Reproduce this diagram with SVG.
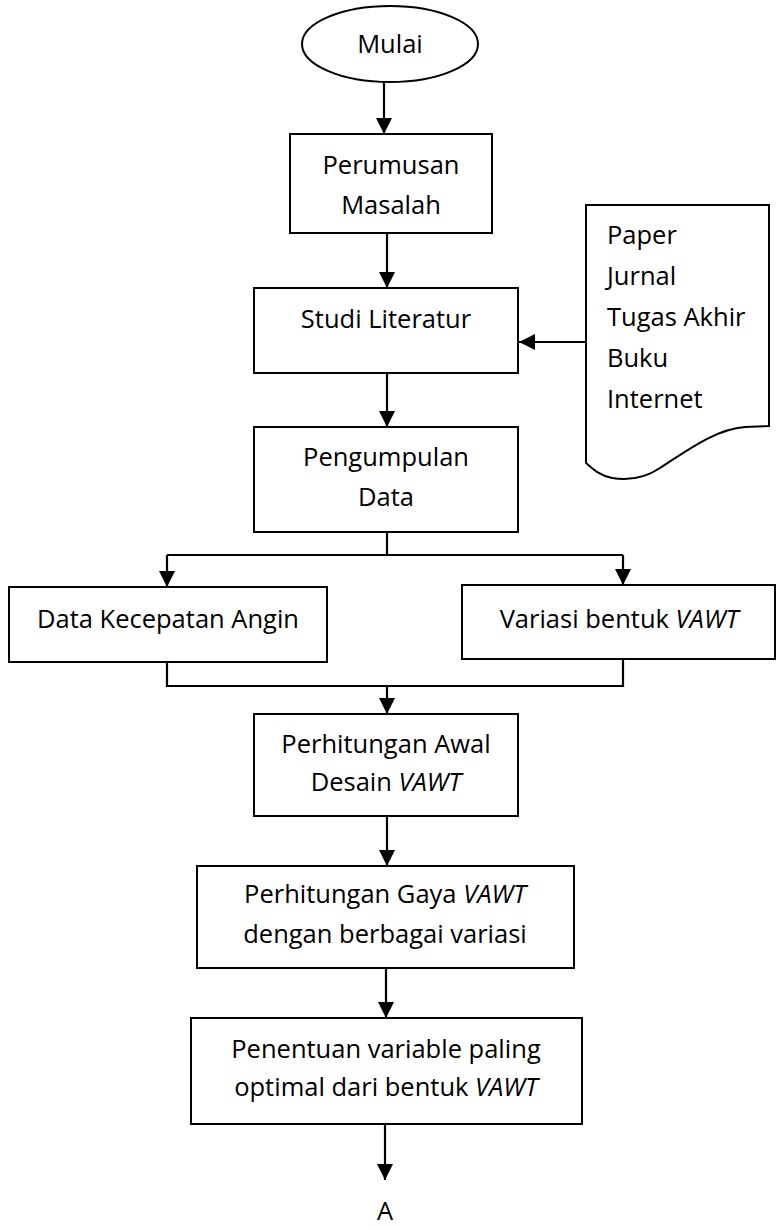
<svg xmlns="http://www.w3.org/2000/svg" width="776" height="1230" viewBox="0 0 776 1230">
<style>
.s{fill:#fff;stroke:#000;stroke-width:2}
.t{font-family:"Open Sans","Noto Sans",sans-serif;font-size:25.5px;fill:#000;text-anchor:middle}
.l{font-family:"Open Sans","Noto Sans",sans-serif;font-size:25.5px;fill:#000}
.i{font-style:italic}
.c{fill:none;stroke:#000;stroke-width:2.2}
</style>
<defs>
<marker id="ah" markerUnits="userSpaceOnUse" markerWidth="16" markerHeight="16" refX="16" refY="8" orient="auto">
<path d="M0,0 L16,8 L0,16 Z" fill="#000"/>
</marker>
</defs>
<rect width="776" height="1230" fill="#fff"/>
<g id="connectors">
<path class="c" d="M384,82 V134" marker-end="url(#ah)"/>
<path class="c" d="M387,233 V288" marker-end="url(#ah)"/>
<path class="c" d="M586,342 H519" marker-end="url(#ah)"/>
<path class="c" d="M387,373 V427" marker-end="url(#ah)"/>
<path class="c" d="M387,532 V555 M167,555 H623"/>
<path class="c" d="M167,555 V587" marker-end="url(#ah)"/>
<path class="c" d="M623,555 V585" marker-end="url(#ah)"/>
<path class="c" d="M167,662 V686 H623 V659"/>
<path class="c" d="M387,686 V714" marker-end="url(#ah)"/>
<path class="c" d="M387,816 V866" marker-end="url(#ah)"/>
<path class="c" d="M386,968 V1018" marker-end="url(#ah)"/>
<path class="c" d="M385,1124 V1180" marker-end="url(#ah)"/>
</g>
<g id="mulai">
<ellipse class="s" cx="390" cy="44" rx="88" ry="38"/>
<text class="t" x="390" y="53">Mulai</text>
</g>
<g id="perumusan">
<rect class="s" x="290" y="134" width="202" height="99"/>
<text class="t" x="391" y="174">Perumusan</text>
<text class="t" x="391" y="214">Masalah</text>
</g>
<g id="studi">
<rect class="s" x="254" y="288" width="264" height="85"/>
<text class="t" x="386" y="328">Studi Literatur</text>
</g>
<g id="sumber">
<path class="s" d="M586,205 H769 V426 L745,427 C715,429 685,452 660,468 C645,478 630,481 612,478 C600,476 592,468 586,463 Z"/>
<text class="l" x="607" y="244">Paper</text>
<text class="l" x="607" y="285">Jurnal</text>
<text class="l" x="607" y="326">Tugas Akhir</text>
<text class="l" x="607" y="367">Buku</text>
<text class="l" x="607" y="408">Internet</text>
</g>
<g id="pengumpulan">
<rect class="s" x="254" y="427" width="264" height="105"/>
<text class="t" x="386" y="466">Pengumpulan</text>
<text class="t" x="386" y="506">Data</text>
</g>
<g id="kecepatan">
<rect class="s" x="9" y="587" width="318" height="75"/>
<text class="t" x="168" y="628">Data Kecepatan Angin</text>
</g>
<g id="variasi">
<rect class="s" x="462" y="585" width="313" height="74"/>
<text class="t" x="619" y="628">Variasi bentuk <tspan class="i">VAWT</tspan></text>
</g>
<g id="awal">
<rect class="s" x="254" y="714" width="264" height="102"/>
<text class="t" x="386" y="753">Perhitungan Awal</text>
<text class="t" x="386" y="791">Desain <tspan class="i">VAWT</tspan></text>
</g>
<g id="gaya">
<rect class="s" x="197" y="866" width="377" height="102"/>
<text class="t" x="385" y="903">Perhitungan Gaya <tspan class="i">VAWT</tspan></text>
<text class="t" x="385" y="943">dengan berbagai variasi</text>
</g>
<g id="penentuan">
<rect class="s" x="191" y="1018" width="391" height="106"/>
<text class="t" x="386" y="1058">Penentuan variable paling</text>
<text class="t" x="386" y="1096">optimal dari bentuk <tspan class="i">VAWT</tspan></text>
</g>
<g id="a">
<text class="t" x="385" y="1220">A</text>
</g>
</svg>
